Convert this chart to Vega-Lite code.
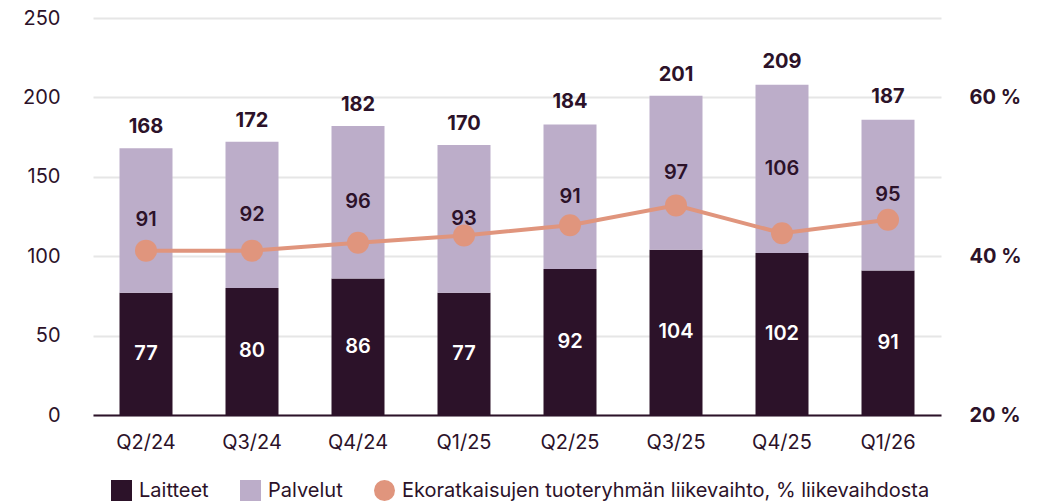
{
  "$schema": "https://vega.github.io/schema/vega-lite/v6.json",
  "width": 848,
  "height": 397,
  "autosize": {"type": "none"},
  "padding": {"left": 93, "top": 18, "right": 101, "bottom": 89},
  "background": "white",
  "config": {
    "view": {"stroke": null},
    "font": "Inter",
    "axis": {"labelFont": "Inter", "labelColor": "#2c1229", "labelFontSize": 20, "title": null, "ticks": false}
  },
  "datasets": {
    "bars": [
      {"q": "Q2/24", "series": "Laitteet", "value": 77},
      {"q": "Q2/24", "series": "Palvelut", "value": 91},
      {"q": "Q3/24", "series": "Laitteet", "value": 80},
      {"q": "Q3/24", "series": "Palvelut", "value": 92},
      {"q": "Q4/24", "series": "Laitteet", "value": 86},
      {"q": "Q4/24", "series": "Palvelut", "value": 96},
      {"q": "Q1/25", "series": "Laitteet", "value": 77},
      {"q": "Q1/25", "series": "Palvelut", "value": 93},
      {"q": "Q2/25", "series": "Laitteet", "value": 92},
      {"q": "Q2/25", "series": "Palvelut", "value": 91},
      {"q": "Q3/25", "series": "Laitteet", "value": 104},
      {"q": "Q3/25", "series": "Palvelut", "value": 97},
      {"q": "Q4/25", "series": "Laitteet", "value": 102},
      {"q": "Q4/25", "series": "Palvelut", "value": 106},
      {"q": "Q1/26", "series": "Laitteet", "value": 91},
      {"q": "Q1/26", "series": "Palvelut", "value": 95}
    ],
    "totals": [
      {"q": "Q2/24", "total": 168, "pct": 40.7, "series": "Ekoratkaisujen tuoteryhmän liikevaihto, % liikevaihdosta"},
      {"q": "Q3/24", "total": 172, "pct": 40.7, "series": "Ekoratkaisujen tuoteryhmän liikevaihto, % liikevaihdosta"},
      {"q": "Q4/24", "total": 182, "pct": 41.7, "series": "Ekoratkaisujen tuoteryhmän liikevaihto, % liikevaihdosta"},
      {"q": "Q1/25", "total": 170, "pct": 42.6, "series": "Ekoratkaisujen tuoteryhmän liikevaihto, % liikevaihdosta"},
      {"q": "Q2/25", "total": 184, "pct": 43.9, "series": "Ekoratkaisujen tuoteryhmän liikevaihto, % liikevaihdosta"},
      {"q": "Q3/25", "total": 201, "pct": 46.4, "series": "Ekoratkaisujen tuoteryhmän liikevaihto, % liikevaihdosta"},
      {"q": "Q4/25", "total": 209, "pct": 42.9, "series": "Ekoratkaisujen tuoteryhmän liikevaihto, % liikevaihdosta"},
      {"q": "Q1/26", "total": 187, "pct": 44.6, "series": "Ekoratkaisujen tuoteryhmän liikevaihto, % liikevaihdosta"}
    ]
  },
  "encoding": {
    "x": {
      "field": "q", "type": "nominal", "sort": null,
      "scale": {"paddingInner": 0.5, "paddingOuter": 0.25},
      "axis": {"labelAngle": 0, "labelPadding": 17, "domainColor": "#2c1229", "domainWidth": 2, "grid": false}
    }
  },
  "layer": [
    {
      "layer": [
        {
          "data": {"name": "bars"},
          "mark": {"type": "bar"},
          "encoding": {
            "y": {
              "field": "value", "type": "quantitative", "stack": "zero",
              "scale": {"domain": [0, 250], "nice": false},
              "axis": {"orient": "left", "values": [0, 50, 100, 150, 200, 250], "grid": true, "gridColor": "#e6e6e6", "gridWidth": 2, "domain": false, "labelPadding": 33}
            },
            "color": {
              "field": "series", "type": "nominal",
              "scale": {
                "domain": ["Laitteet", "Palvelut", "Ekoratkaisujen tuoteryhmän liikevaihto, % liikevaihdosta"],
                "range": ["#2c1229", "#bcadc9", "#e0957d"]
              },
              "legend": {
                "title": null, "orient": "none", "direction": "horizontal",
                "legendX": 18, "legendY": 462,
                "symbolSize": 441, "symbolStrokeWidth": 0, "symbolOpacity": 1,
                "labelFontSize": 20, "labelColor": "#2c1229", "labelFont": "Inter", "labelLimit": 0,
                "labelOffset": 7, "columnPadding": 31,
                "encode": {"symbols": {"update": {"shape": {"signal": "datum.value === 'Laitteet' || datum.value === 'Palvelut' ? 'square' : 'circle'"}, "fillOpacity": {"value": 1}}}}
              }
            },
            "order": {"field": "series", "sort": "ascending"}
          }
        },
        {
          "data": {"name": "bars"},
          "transform": [
            {"stack": "value", "groupby": ["q"], "sort": [{"field": "series"}], "as": ["y0", "y1"]},
            {"fold": ["y0", "y1"], "as": ["k", "pos"]},
            {"aggregate": [{"op": "mean", "field": "pos", "as": "mid"}, {"op": "max", "field": "value", "as": "value"}], "groupby": ["q", "series"]}
          ],
          "mark": {"type": "text", "fontSize": 20, "fontWeight": 600, "baseline": "middle"},
          "encoding": {
            "y": {"field": "mid", "type": "quantitative"},
            "text": {"field": "value", "type": "quantitative"},
            "color": {"condition": {"test": "datum.series === 'Laitteet'", "value": "white"}, "value": "#2c1229"}
          }
        },
        {
          "data": {"name": "totals"},
          "mark": {"type": "text", "fontSize": 20, "fontWeight": "bold", "baseline": "middle", "dy": -21, "color": "#2c1229"},
          "encoding": {
            "y": {"field": "total", "type": "quantitative"},
            "text": {"field": "total", "type": "quantitative"}
          }
        }
      ]
    },
    {
      "data": {"name": "totals"},
      "layer": [
        {
          "mark": {"type": "line", "color": "#e0957d", "strokeWidth": 4},
          "encoding": {
            "y": {
              "field": "pct", "type": "quantitative",
              "scale": {"domain": [20, 70], "nice": false},
              "axis": {"orient": "right", "values": [20, 40, 60], "labelExpr": "datum.value + ' %'", "labelFontWeight": "bold", "grid": false, "domain": false, "labelPadding": 28}
            }
          }
        },
        {
          "mark": {"type": "point", "filled": true, "opacity": 1, "size": 484},
          "encoding": {
            "y": {"field": "pct", "type": "quantitative"},
            "color": {"field": "series", "type": "nominal"}
          }
        }
      ]
    }
  ],
  "resolve": {"scale": {"y": "independent"}}
}
